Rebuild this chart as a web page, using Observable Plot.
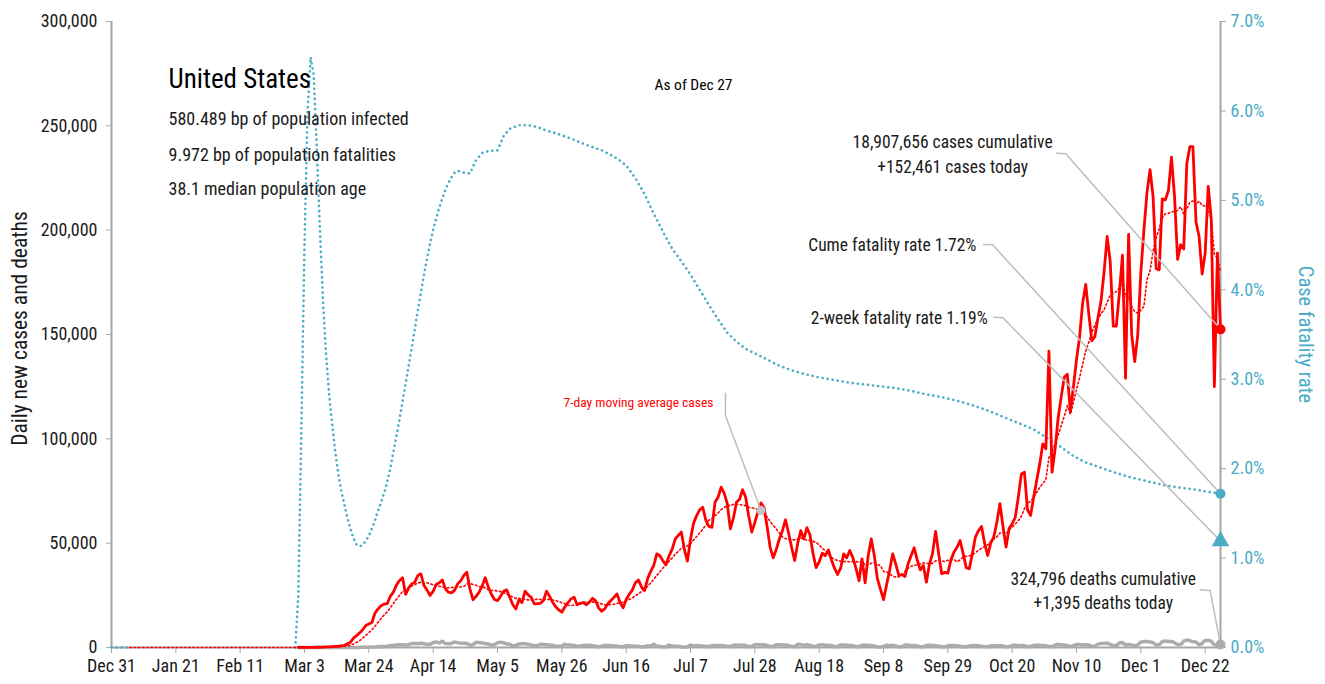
<!DOCTYPE html>
<html>
<head>
<meta charset="utf-8">
<script src="https://cdn.jsdelivr.net/npm/d3@7"></script>
<script src="https://cdn.jsdelivr.net/npm/@observablehq/plot@0.6"></script>
<style>
  html, body { margin: 0; padding: 0; background: #fff; }
  #chart { width: 1325px; height: 684px; }
</style>
</head>
<body>
<div id="chart"></div>
<script>
// ---------------- DATA ----------------
const startDay = "2019-12-31";
const endDay = "2020-12-27";

const xTickDates = ["2019-12-31","2020-01-21","2020-02-11","2020-03-03","2020-03-24","2020-04-14","2020-05-05","2020-05-26","2020-06-16","2020-07-07","2020-07-28","2020-08-18","2020-09-08","2020-09-29","2020-10-20","2020-11-10","2020-12-01","2020-12-22"];
const yTicks = [0, 50000, 100000, 150000, 200000, 250000, 300000];
const cfrTicks = [0, 1, 2, 3, 4, 5, 6, 7]; // percent

// daily new cases (thousands), Jan 6 .. Feb 29 then by month
const casesJanFebK = [0,0,0,0,0,0,0,0,0,0,0,0,0,0,0,0,0,0,0,0,0,0,0,0,0,0,0,0,0,0,0,0,0,0,0,0,0,0,0,0,0,0,0,0,0,0,0,0,0,0,0,0,0,0,0];
const casesMarK = [0.02,0.03,0.03,0.04,0.06,0.1,0.11,0.11,0.17,0.29,0.3,0.4,0.55,0.6,0.8,1.0,1.8,2.5,4.5,5.7,7.0,8.5,10.5,11.3,12.0,16.5,18.5,20.0,20.8,21.0,24.5];
const casesAprK = [26.5,29.9,32.1,33.4,25.5,28.5,30.5,31.3,34.5,35.3,29.7,27.5,24.9,27.0,30.2,31.0,32.4,28.1,26.5,26.2,27.5,30.5,32.0,34.5,36.1,28.0,22.9,24.5,26.5,29.5];
const casesMayK = [33.4,29.0,25.5,23.0,22.5,24.5,27.0,27.6,24.1,20.5,18.5,22.9,21.5,27.0,25.2,24.0,20.9,21.0,21.2,22.5,27.0,24.5,21.7,19.5,18.0,16.9,19.5,21.5,23.3,24.1,20.5];
const casesJunK = [21.2,21.5,20.5,21.7,23.6,22.5,19.0,17.4,18.5,21.0,22.5,24.0,25.7,21.5,19.0,23.0,25.5,27.5,31.0,32.4,29.0,27.3,33.0,36.5,39.3,44.9,44.0,41.5,39.6,44.0];
const casesJulK = [47.0,52.0,53.7,55.3,47.0,41.4,52.0,59.6,63.2,66.0,67.2,61.0,58.0,57.6,69.6,72.0,76.8,74.0,68.9,56.9,62.0,69.6,71.0,75.6,72.0,63.0,55.3,60.0,65.0,69.3,67.0];
const casesAugK = [58.0,48.0,43.0,47.0,52.0,56.0,61.2,55.0,48.0,41.7,50.0,56.0,52.0,57.4,54.0,45.0,38.3,41.0,45.2,44.0,46.8,42.0,38.0,35.0,38.0,44.9,43.0,46.5,43.0,38.0,32.0];
const casesSepK = [42.5,31.0,44.0,52.0,44.0,33.0,28.0,22.9,30.0,37.0,44.9,40.0,34.5,35.0,34.0,40.0,44.0,47.8,42.0,37.2,39.3,31.3,40.0,45.0,55.6,45.0,35.3,36.0,35.6,42.0];
const casesOctK = [45.7,48.0,51.3,45.0,38.2,37.7,45.0,52.9,56.0,58.0,50.0,44.1,50.0,53.0,60.0,68.9,58.0,48.1,57.0,59.3,62.4,72.0,83.2,84.0,66.0,63.3,72.0,80.0,88.0,97.6,95.2];
const casesNovK = [142.0,84.0,95.0,110.0,120.0,129.5,131.0,113.0,125.0,138.0,148.7,165.0,174.0,160.0,147.0,149.0,158.0,166.0,180.0,197.0,185.0,154.0,154.0,170.0,188.0,129.0,198.0,150.0,137.0,150.0];
const casesDecK = [180.0,200.0,218.0,229.0,216.0,181.5,181.0,215.0,214.5,219.0,235.0,216.0,186.0,193.0,191.0,232.0,240.0,240.0,204.0,197.0,179.0,189.0,221.0,205.0,125.0,189.0,152.461];

// daily new deaths, from Mar 1
const deathsMar = [1,1,5,3,1,3,2,4,1,6,8,4,7,7,10,22,23,40,58,49,70,117,139,160,236,268,402,470,444,564,912];
const deathsApr = [1049,1169,1321,1332,1150,1342,1939,1973,1783,2087,1831,1528,1535,2398,2617,2174,3000,1856,1772,1935,2683,2341,1993,1985,1875,1176,1384,2470,2390,2201];
const deathsMay = [1920,1650,1200,1300,2350,2500,2300,1700,1600,750,1000,1700,1800,1750,1600,1250,850,900,1550,1550,1300,1250,1050,630,550,690,1500,1250,1200,950,650];
const deathsJun = [750,1000,1050,1050,900,700,400,600,1050,950,900,800,700,350,400,850,800,700,650,600,300,400,800,750,1500,650,550,300,350,1200];
const deathsJul = [700,650,650,300,250,350,1200,850,950,800,700,450,450,950,950,950,900,850,500,500,1100,1150,1100,1150,1000,450,550,1300,1400,1250,1350];
const deathsAug = [1050,450,550,1300,1300,1250,1250,1000,500,500,1500,1450,1100,1300,1050,550,450,1250,1350,1100,1100,950,400,450,1150,1250,1100,1000,950,400,450];
const deathsSep = [1050,1050,1000,950,700,300,250,450,1150,900,1050,700,400,400,1150,1200,900,900,700,300,400,950,1100,1000,900,750,300,300,900,950];
const deathsOct = [900,850,700,400,400,700,950,950,900,650,450,350,800,900,850,900,700,400,450,950,1150,850,950,900,450,500,1000,1050,1050,950,850];
const deathsNov = [450,500,1150,1600,1200,1250,1000,500,700,1450,1450,1200,1350,1200,650,750,1650,1900,2050,2000,1500,900,950,2200,2350,1250,1400,1250,850,1250];
const deathsDec = [2650,2800,2900,2600,2300,1150,1450,2700,3100,2900,2900,2300,1450,1500,3000,3600,3300,2800,2600,1450,1900,3400,3400,2950,1350,1150,1395];

// case fatality rate (%), day offsets from Dec 31 (null = no value)
const cfrDays = [0,6,7,60,61,62,63,64,65,66,67,68,69,70,71,72,73,74,75,76,77,78,79,80,81,82,83,84,85,86,87,88,89,90,91,92,93,94,95,96,97,98,99,100,101,102,103,104,105,106,107,108,109,110,111,112,113,115,117,119,121,123,126,128,130,133,136,139,142,146,150,155,160,165,168,171,174,177,180,183,186,189,192,195,198,201,204,207,210,214,218,222,226,231,236,241,246,251,256,261,266,271,276,281,286,291,296,301,306,310,314,318,323,328,333,338,343,348,353,358,362];
const cfrPct = [0,0,null,0,0.6,2.5,4.5,6.0,6.6,6.4,5.6,4.7,3.9,3.3,2.85,2.5,2.2,1.95,1.75,1.6,1.45,1.33,1.22,1.15,1.13,1.15,1.19,1.25,1.33,1.42,1.53,1.62,1.73,1.85,2.0,2.18,2.36,2.55,2.75,2.95,3.15,3.35,3.56,3.77,3.97,4.17,4.35,4.52,4.67,4.8,4.92,5.02,5.12,5.2,5.26,5.31,5.33,5.31,5.3,5.45,5.53,5.55,5.56,5.72,5.8,5.84,5.84,5.82,5.78,5.74,5.69,5.62,5.56,5.47,5.39,5.25,5.07,4.85,4.65,4.46,4.32,4.17,4.0,3.83,3.67,3.52,3.42,3.34,3.29,3.22,3.15,3.1,3.06,3.02,2.99,2.96,2.94,2.92,2.9,2.87,2.83,2.8,2.76,2.71,2.65,2.58,2.51,2.44,2.33,2.24,2.14,2.07,2.01,1.95,1.9,1.86,1.82,1.79,1.77,1.74,1.72];

const cumeFatalityPct = 1.72;
const twoWeekFatalityPct = 1.19;
const maMarkerDay = "2020-07-30";

// texts
const titleText = "United States";
const statLines = ["580.489 bp of population infected", "9.972 bp of population fatalities", "38.1 median population age"];
const asOfText = "As of Dec 27";
const leftAxisTitle = "Daily new cases and deaths";
const rightAxisTitle = "Case fatality rate";
const casesLines = ["18,907,656 cases cumulative", "+152,461 cases today"];
const deathsLines = ["324,796 deaths cumulative", "+1,395 deaths today"];
const cumeLabel = "Cume fatality rate 1.72%";
const twoWeekLabel = "2-week fatality rate 1.19%";
const maLabel = "7-day moving average cases";

// annotation leader anchors (day offset from Dec 31, value on left scale)
const leaderAnchors = {
  cases:   [[308.5, 236900], [311.5, 236600]],
  cume:    [[284.6, 193100], [287.6, 193000]],
  twoWeek: [[288.0, 158300], [291.0, 158000]],
  deaths:  [[355.4, 27650],  [358.6, 27300]],
  ma:      [[200.4, 121900], [200.4, 111200]]
};

// ---------------- BUILD ----------------
const FONT = '"Liberation Sans Narrow", "Arial Narrow", "Roboto Condensed", "DejaVu Sans Condensed", "Open Sans", sans-serif';
const RED = "#ff0000", TEAL = "#4bacc6", AXIS = "#a6a6a6", LEAD = "#bdbdbd", DGREY = "#acacac", INK = "#1a1a1a";
const YMAX = 300000, PMAX = 7;
const pct2y = p => p == null ? null : p / PMAX * YMAX;

const t0 = new Date(startDay + "T00:00:00Z");
const dayToDate = d => new Date(t0.getTime() + d * 864e5);
const parse = s => new Date(s + "T00:00:00Z");

const casesK = [].concat(casesJanFebK, casesMarK, casesAprK, casesMayK, casesJunK, casesJulK, casesAugK, casesSepK, casesOctK, casesNovK, casesDecK);
const caseRows = casesK.map((v, i) => ({date: dayToDate(6 + i), cases: v * 1000}));
const caseRowsMar = caseRows.filter(d => d.date >= parse("2020-03-01"));
const deathsAll = [].concat(deathsMar, deathsApr, deathsMay, deathsJun, deathsJul, deathsAug, deathsSep, deathsOct, deathsNov, deathsDec);
const deathRows = deathsAll.map((v, i) => ({date: dayToDate(61 + i), deaths: v}));
const cfrRows = cfrDays.map((d, i) => ({date: dayToDate(d), y: pct2y(cfrPct[i])}));

const lastCase = caseRows[caseRows.length - 1];
const lastDeath = deathRows[deathRows.length - 1];
const lastCfr = cfrRows[cfrRows.length - 1];
const endDate = parse(endDay);

// 7-day trailing mean at the marker day
const maEnd = parse(maMarkerDay);
const maVal = d3.mean(caseRows.filter(d => d.date <= maEnd && d.date > new Date(maEnd.getTime() - 7 * 864e5)), d => d.cases);

const targets = {
  cases: [endDate, lastCase.cases],
  cume: [endDate, pct2y(cumeFatalityPct)],
  twoWeek: [endDate, pct2y(twoWeekFatalityPct)],
  deaths: [endDate, lastDeath.deaths],
  ma: [maEnd, maVal]
};
const leaderRows = [];
for (const k of Object.keys(leaderAnchors)) {
  for (const [d, v] of leaderAnchors[k]) leaderRows.push({id: k, date: dayToDate(d), y: v});
  leaderRows.push({id: k, date: targets[k][0], y: targets[k][1]});
}
const anchorPt = k => ({date: dayToDate(leaderAnchors[k][0][0]), y: leaderAnchors[k][0][1]});
const note = (k, s, dx, dy, opts = {}) => Plot.text([s], {x: anchorPt(k).date, y: anchorPt(k).y, text: d => d, dx, dy, fontSize: 17.5, fill: INK, ...opts});
const corner = (s, dx, dy, opts = {}) => Plot.text([s], {frameAnchor: "top-left", text: d => d, dx, dy, textAnchor: "start", lineAnchor: "middle", fill: INK, ...opts});

const chart = Plot.plot({
  width: 1325,
  height: 684,
  marginLeft: 111,
  marginRight: 105,
  marginTop: 21,
  marginBottom: 37,
  style: {fontFamily: FONT, fontSize: "18px", color: INK, background: "#fff", overflow: "visible"},
  x: {type: "utc", domain: [parse(startDay), endDate]},
  y: {domain: [0, YMAX]},
  marks: [
    // axes: ticks (grey) and labels
    Plot.axisX({ticks: xTickDates.map(parse), tickFormat: () => "", tickSize: 6, color: AXIS, label: null}),
    Plot.axisX({ticks: xTickDates.map(parse), tickFormat: d3.utcFormat("%b %-d"), tickSize: 0, tickPadding: 12, color: INK, fontSize: 18, label: null}),
    Plot.axisY({ticks: yTicks, tickFormat: () => "", tickSize: 5, color: AXIS, label: null}),
    Plot.axisY({ticks: yTicks, tickFormat: d3.format(","), tickSize: 0, tickPadding: 14, color: INK, fontSize: 18, label: null}),
    Plot.axisY({anchor: "right", ticks: cfrTicks.map(pct2y), tickFormat: () => "", tickSize: 5, color: AXIS, label: null}),
    Plot.axisY({anchor: "right", ticks: cfrTicks.map(pct2y), tickFormat: d => (d / YMAX * PMAX).toFixed(1) + "%", tickSize: 0, tickPadding: 10, color: TEAL, fontSize: 18, label: null}),
    Plot.ruleX([parse(startDay)], {stroke: AXIS, strokeWidth: 2}),
    Plot.ruleX([endDate], {stroke: AXIS, strokeWidth: 2}),
    Plot.ruleY([0], {stroke: AXIS, strokeWidth: 2}),

    // case fatality rate (dotted teal)
    Plot.line(cfrRows, {x: "date", y: "y", stroke: TEAL, strokeWidth: 2.6, strokeLinecap: "round", strokeDasharray: "0.1 5"}),
    // daily deaths
    Plot.line(deathRows, {x: "date", y: "deaths", stroke: DGREY, strokeWidth: 3.5, curve: "monotone-x"}),
    // 7-day moving average
    Plot.lineY(caseRows, Plot.windowY({k: 7, anchor: "end"}, {x: "date", y: "cases", stroke: RED, strokeWidth: 1.6, strokeDasharray: "1.6 2.6"})),
    // daily cases
    Plot.line(caseRowsMar, {x: "date", y: "cases", stroke: RED, strokeWidth: 2.8, strokeLinejoin: "round"}),

    // leader lines
    Plot.line(leaderRows, {x: "date", y: "y", z: "id", stroke: LEAD, strokeWidth: 1.5}),

    // end markers
    Plot.dot([lastCase], {x: "date", y: "cases", r: 5, fill: RED}),
    Plot.dot([lastCfr], {x: "date", y: "y", r: 5, fill: TEAL}),
    Plot.dot([{date: endDate, y: pct2y(twoWeekFatalityPct)}], {x: "date", y: "y", r: 6.5, symbol: "triangle", fill: TEAL}),
    Plot.dot([lastDeath], {x: "date", y: "deaths", r: 5, fill: DGREY}),
    Plot.dot([{date: maEnd, y: maVal}], {x: "date", y: "y", r: 4.5, fill: "#c4c4c4"}),

    // annotation texts
    note("cases", casesLines[0], -104, -11),
    note("cases", casesLines[1], -104, 14),
    note("cume", cumeLabel, -7, 1, {textAnchor: "end"}),
    note("twoWeek", twoWeekLabel, -6, 1.5, {textAnchor: "end"}),
    note("deaths", deathsLines[0], -97, -10),
    note("deaths", deathsLines[1], -97, 14),
    note("ma", maLabel, -12, 10, {textAnchor: "end", fontSize: 13.5, fill: RED}),

    // title block
    corner(titleText, 57, 58, {fontSize: 27, fill: "#000"}),
    corner(statLines[0], 57, 98, {fontSize: 18}),
    corner(statLines[1], 57, 134, {fontSize: 18}),
    corner(statLines[2], 57, 168, {fontSize: 18}),
    corner(asOfText, 582, 64, {textAnchor: "middle", fontSize: 15.5, fill: "#000"}),

    // axis titles
    Plot.text([leftAxisTitle], {frameAnchor: "left", text: d => d, dx: -91, dy: -6, rotate: -90, textAnchor: "middle", lineAnchor: "middle", fontSize: 21.5, fill: INK}),
    Plot.text([rightAxisTitle], {frameAnchor: "right", text: d => d, dx: 85, rotate: 90, textAnchor: "middle", lineAnchor: "middle", fontSize: 20.5, fill: TEAL})
  ]
});

document.getElementById("chart").appendChild(chart);
</script>
</body>
</html>
